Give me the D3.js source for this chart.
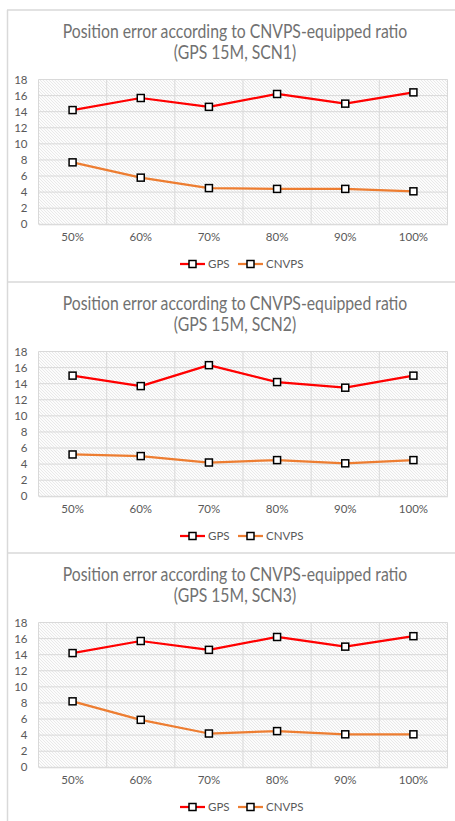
<!DOCTYPE html>
<html>
<head>
<meta charset="utf-8">
<script src="https://cdn.jsdelivr.net/npm/d3@7"></script>
<style>
	body { margin: 0; background: #fff; }
	svg { display: block; }
	text { font-family: Lato, "Open Sans", sans-serif; }
</style>
</head>
<body>
<div id="chart"></div>
<script>
var categories = ["50%", "60%", "70%", "80%", "90%", "100%"];
var yTicks = [0, 2, 4, 6, 8, 10, 12, 14, 16, 18];
var scenarios = ["SCN1", "SCN2", "SCN3"];
var seriesNames = ["GPS", "CNVPS"];

var gpsScn1 = [14.2, 15.7, 14.6, 16.2, 15.0, 16.4];
var cnvpsScn1 = [7.7, 5.8, 4.5, 4.4, 4.4, 4.1];
var gpsScn2 = [15.0, 13.7, 16.3, 14.2, 13.5, 15.0];
var cnvpsScn2 = [5.2, 5.0, 4.2, 4.5, 4.1, 4.5];
var gpsScn3 = [14.2, 15.7, 14.6, 16.2, 15.0, 16.3];
var cnvpsScn3 = [8.2, 5.9, 4.2, 4.5, 4.1, 4.1];

var panels = [
	{ scn: scenarios[0], gps: gpsScn1, cnvps: cnvpsScn1, top: 10 },
	{ scn: scenarios[1], gps: gpsScn2, cnvps: cnvpsScn2, top: 282 },
	{ scn: scenarios[2], gps: gpsScn3, cnvps: cnvpsScn3, top: 553 }
];

var W = 455, H = 821;
var colors = { "GPS": "#ff0000", "CNVPS": "#ed7d31" };
var plotTop = 69.5, plotBottom = 214.3;
var labelFont = "Lato, 'Open Sans', sans-serif";

var svg = d3.select("#chart").append("svg")
	.attr("width", W)
	.attr("height", H);

// diagonal hatch for the plot background
var defs = svg.append("defs");
var pat = defs.append("pattern")
	.attr("id", "hatch")
	.attr("patternUnits", "userSpaceOnUse")
	.attr("width", 3)
	.attr("height", 3);
pat.append("rect").attr("width", 3).attr("height", 3).attr("fill", "#fcfcfc");
pat.append("path")
	.attr("d", "M-1,-1 L4,4 M-1,2 L1,4 M2,-1 L4,1")
	.attr("stroke", "#e4e4e4")
	.attr("stroke-width", 0.8);

// panel borders
svg.append("line")
	.attr("x1", 7.5).attr("x2", 7.5)
	.attr("y1", 10).attr("y2", H)
	.attr("stroke", "#d9d9d9").attr("stroke-width", 1.5);
svg.selectAll("line.sep")
		.data(panels)
	.enter().append("line")
		.attr("class", "sep")
		.attr("x1", 7).attr("x2", W)
		.attr("y1", function (d) { return d.top; })
		.attr("y2", function (d) { return d.top; })
		.attr("stroke", "#d9d9d9").attr("stroke-width", 1.5);

var x = d3.scaleBand()
	.domain(categories)
	.range([38.5, 447.5]);

panels.forEach(function (p) {
	var g = svg.append("g").attr("transform", "translate(0," + p.top + ")");

	var y = d3.scaleLinear()
		.domain([0, 18])
		.range([plotBottom, plotTop]);

	// title, squeezed horizontally to mimic the narrow original face
	var title = g.append("text")
		.attr("transform", "translate(235,0) scale(0.83,1)")
		.attr("fill", "#717171")
		.style("font-size", "19px")
		.attr("text-anchor", "middle");
	title.append("tspan").attr("x", 0).attr("y", 28)
		.text("Position error according to CNVPS-equipped ratio");
	title.append("tspan").attr("x", 0).attr("y", 49.5)
		.text("(GPS 15M, " + p.scn + ")");

	// plot background
	g.append("rect")
		.attr("x", x.range()[0])
		.attr("y", y(18))
		.attr("width", x.range()[1] - x.range()[0])
		.attr("height", y(0) - y(18))
		.attr("fill", "url(#hatch)");

	// horizontal gridlines
	g.selectAll("line.hgrid")
			.data(yTicks)
		.enter().append("line")
			.attr("class", "hgrid")
			.attr("x1", x.range()[0]).attr("x2", x.range()[1])
			.attr("y1", function (d) { return y(d); })
			.attr("y2", function (d) { return y(d); })
			.attr("stroke", "#d9d9d9").attr("stroke-width", 1);

	// vertical gridlines at category edges
	var edges = categories.map(function (c) { return x(c); }).concat([x.range()[1]]);
	g.selectAll("line.vgrid")
			.data(edges)
		.enter().append("line")
			.attr("class", "vgrid")
			.attr("x1", function (d) { return d; })
			.attr("x2", function (d) { return d; })
			.attr("y1", y(18)).attr("y2", y(0))
			.attr("stroke", "#d9d9d9").attr("stroke-width", 1);

	// y axis labels
	var yAxis = g.append("g")
		.attr("transform", "translate(" + x.range()[0] + ",0)")
		.call(d3.axisLeft(y).tickValues(yTicks).tickSize(0).tickPadding(11));
	yAxis.select(".domain").remove();
	yAxis.selectAll("text")
		.attr("fill", "#595959")
		.style("font-size", "11.5px")
		.style("font-family", labelFont);

	// x axis labels
	var xAxis = g.append("g")
		.attr("transform", "translate(0," + y(0) + ")")
		.call(d3.axisBottom(x).tickSize(0).tickPadding(9));
	xAxis.select(".domain").attr("stroke", "#d9d9d9");
	xAxis.selectAll("text")
		.attr("fill", "#595959")
		.style("font-size", "11.5px")
		.style("font-family", labelFont);

	// series
	var series = [
		{ name: seriesNames[0], values: p.gps },
		{ name: seriesNames[1], values: p.cnvps }
	];
	var line = d3.line()
		.x(function (d, i) { return x(categories[i]) + x.bandwidth() / 2; })
		.y(function (d) { return y(d); });

	series.forEach(function (s) {
		g.append("path")
			.attr("d", line(s.values))
			.attr("fill", "none")
			.attr("stroke", colors[s.name])
			.attr("stroke-width", 2.25)
			.attr("stroke-linejoin", "round");
		g.selectAll("rect.m-" + s.name)
				.data(s.values)
			.enter().append("rect")
				.attr("class", "m-" + s.name)
				.attr("x", function (d, i) { return x(categories[i]) + x.bandwidth() / 2 - 3.5; })
				.attr("y", function (d) { return y(d) - 3.5; })
				.attr("width", 7).attr("height", 7)
				.attr("fill", "#fff")
				.attr("stroke", "#000")
				.attr("stroke-width", 1.5);
	});

	// legend
	var legendX = [180, 238];
	var leg = g.selectAll("g.legend")
			.data(seriesNames)
		.enter().append("g")
			.attr("class", "legend")
			.attr("transform", function (d, i) { return "translate(" + legendX[i] + ",254)"; });
	leg.append("line")
		.attr("x1", 0).attr("x2", 25)
		.attr("stroke", function (d) { return colors[d]; })
		.attr("stroke-width", 2.25);
	leg.append("rect")
		.attr("x", 9).attr("y", -3.5)
		.attr("width", 7).attr("height", 7)
		.attr("fill", "#fff").attr("stroke", "#000").attr("stroke-width", 1.5);
	leg.append("text")
		.attr("x", 28).attr("dy", "0.35em")
		.attr("fill", "#595959")
		.style("font-size", "11.5px")
		.style("font-family", labelFont)
		.text(function (d) { return d; });
});
</script>
</body>
</html>
